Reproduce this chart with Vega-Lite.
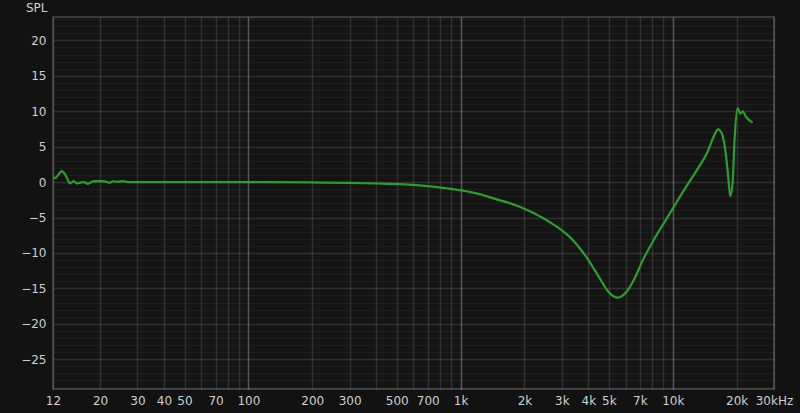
{
  "$schema": "https://vega.github.io/schema/vega-lite/v6.json",
  "width": 721,
  "height": 372,
  "autosize": {"type": "none"},
  "padding": {"left": 53, "top": 17, "right": 26, "bottom": 24},
  "background": "#121212",
  "data": {
    "values": [
      {"f": 12, "spl": 0.55},
      {"f": 12.4, "spl": 0.65},
      {"f": 12.8, "spl": 1.15},
      {"f": 13.2, "spl": 1.55},
      {"f": 13.6, "spl": 1.2},
      {"f": 14.0, "spl": 0.55},
      {"f": 14.4, "spl": -0.2},
      {"f": 15.0, "spl": 0.15},
      {"f": 15.6, "spl": -0.2},
      {"f": 16.2, "spl": -0.05},
      {"f": 16.8, "spl": 0.0},
      {"f": 17.5, "spl": -0.25},
      {"f": 18.5, "spl": 0.1},
      {"f": 19.8, "spl": 0.15},
      {"f": 21, "spl": 0.1},
      {"f": 22.2, "spl": -0.1},
      {"f": 23, "spl": 0.12},
      {"f": 24.3, "spl": 0.05},
      {"f": 25.6, "spl": 0.15},
      {"f": 27, "spl": 0.0},
      {"f": 28.5, "spl": 0.0},
      {"f": 35, "spl": 0.0},
      {"f": 50, "spl": 0.0},
      {"f": 100, "spl": 0.0},
      {"f": 200, "spl": -0.05},
      {"f": 300, "spl": -0.12},
      {"f": 400, "spl": -0.2},
      {"f": 520, "spl": -0.3},
      {"f": 720, "spl": -0.6},
      {"f": 1000, "spl": -1.15},
      {"f": 1250, "spl": -1.75},
      {"f": 1430, "spl": -2.3},
      {"f": 1778, "spl": -3.15},
      {"f": 2000, "spl": -3.75},
      {"f": 2290, "spl": -4.6},
      {"f": 2650, "spl": -5.7},
      {"f": 3060, "spl": -7.0},
      {"f": 3410, "spl": -8.3},
      {"f": 3940, "spl": -10.7},
      {"f": 4470, "spl": -13.3},
      {"f": 4980, "spl": -15.5},
      {"f": 5250, "spl": -16.1},
      {"f": 5490, "spl": -16.3},
      {"f": 5750, "spl": -16.1},
      {"f": 6085, "spl": -15.4},
      {"f": 6540, "spl": -13.85},
      {"f": 7285, "spl": -10.8},
      {"f": 8120, "spl": -8.2},
      {"f": 9050, "spl": -5.85},
      {"f": 10000, "spl": -3.74},
      {"f": 11050, "spl": -1.6},
      {"f": 12090, "spl": 0.25},
      {"f": 13200, "spl": 2.0},
      {"f": 14500, "spl": 4.1},
      {"f": 15580, "spl": 6.4},
      {"f": 16330, "spl": 7.45},
      {"f": 17060, "spl": 6.8},
      {"f": 17680, "spl": 4.5},
      {"f": 18200, "spl": 1.2},
      {"f": 18660, "spl": -2.0},
      {"f": 19130, "spl": -0.2},
      {"f": 19550, "spl": 5.9},
      {"f": 20200, "spl": 10.45},
      {"f": 20800, "spl": 9.65},
      {"f": 21350, "spl": 10.0},
      {"f": 22150, "spl": 9.2},
      {"f": 22950, "spl": 8.7},
      {"f": 23800, "spl": 8.4}
    ]
  },
  "mark": {"type": "line", "color": "#2aa02a", "strokeWidth": 2.2, "interpolate": "monotone", "clip": true},
  "encoding": {
    "x": {
      "field": "f",
      "type": "quantitative",
      "scale": {"type": "log", "domain": [12, 30000], "nice": false},
      "axis": {
        "title": null,
        "domain": false,
        "ticks": false,
        "labelPadding": 6,
        "labelFlush": false,
        "labelOverlap": false,
        "values": [12, 20, 30, 40, 50, 60, 70, 80, 90, 100, 200, 300, 400, 500, 600, 700, 800, 900, 1000, 2000, 3000, 4000, 5000, 6000, 7000, 8000, 9000, 10000, 20000, 30000],
        "labelExpr": "indexof([12,20,30,40,50,70,100,200,300,500,700], datum.value) >= 0 ? '' + datum.value : datum.value === 30000 ? '30kHz' : indexof([1000,2000,3000,4000,5000,7000,10000,20000], datum.value) >= 0 ? (datum.value / 1000) + 'k' : ''",
        "gridColor": {"condition": {"test": "datum.value === 100 || datum.value === 1000 || datum.value === 10000", "value": "rgba(255,255,255,0.28)"}, "value": "rgba(255,255,255,0.12)"},
        "gridWidth": 1.5
      }
    },
    "y": {
      "field": "spl",
      "type": "quantitative",
      "scale": {"domain": [-29.2, 23.3], "nice": false, "zero": false},
      "axis": {
        "title": "SPL",
        "titleAngle": 0,
        "titleX": -6,
        "titleY": -10,
        "titleAlign": "right",
        "titleBaseline": "middle",
        "titleFont": "DejaVu Sans",
        "titleFontSize": 12,
        "titleFontWeight": "normal",
        "titleColor": "#d0d0d0",
        "domain": false,
        "ticks": false,
        "labelPadding": 7,
        "labelFlush": false,
        "labelOverlap": false,
        "values": [-29, -28, -27, -26, -25, -24, -23, -22, -21, -20, -19, -18, -17, -16, -15, -14, -13, -12, -11, -10, -9, -8, -7, -6, -5, -4, -3, -2, -1, 0, 1, 2, 3, 4, 5, 6, 7, 8, 9, 10, 11, 12, 13, 14, 15, 16, 17, 18, 19, 20, 21, 22, 23],
        "labelExpr": "datum.value % 5 === 0 ? datum.label : ''",
        "gridColor": {"condition": {"test": "datum.value % 5 === 0", "value": "rgba(255,255,255,0.12)"}, "value": "rgba(255,255,255,0.045)"},
        "gridWidth": 1.5
      }
    }
  },
  "config": {
    "view": {"stroke": "#4a4a4a", "strokeWidth": 1.5, "fill": "#141414"},
    "axis": {
      "labelFont": "DejaVu Sans",
      "labelFontSize": 12,
      "labelColor": "#cfcfcf"
    }
  }
}
